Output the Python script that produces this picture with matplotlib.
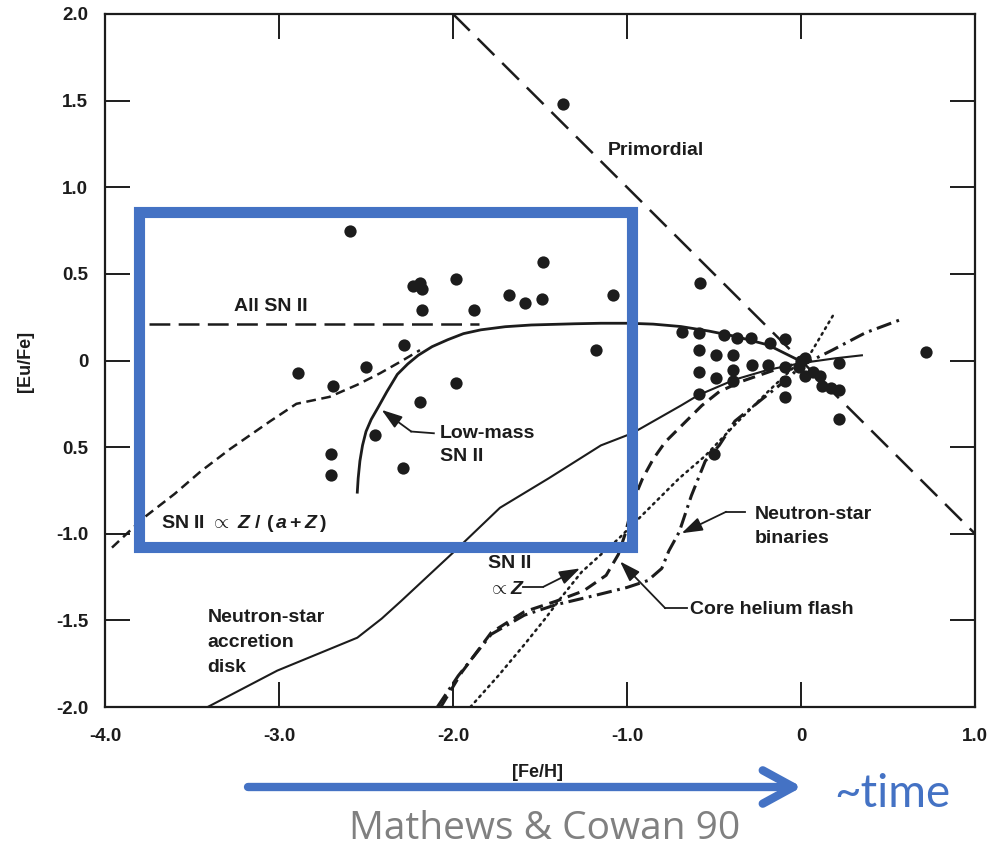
import matplotlib
matplotlib.use('Agg')
import matplotlib.pyplot as plt
from matplotlib.patches import Rectangle, FancyArrowPatch

# %% data read off the Mathews & Cowan (1990) [Eu/Fe] vs [Fe/H] figure
fe_h_stars = [-1.37, -2.59, -1.48, -1.98, -2.23, -2.19, -2.18, -1.68, -1.585, -1.49,
              -1.08, -2.18, -1.88, -2.28, -1.18, -2.89, -2.50, -2.69, -1.98, -2.19,
              -2.45, -2.70, -2.70, -2.29,
              -0.58, -0.686, -0.586, -0.44, -0.37, -0.29, -0.18, -0.09, -0.586, -0.49,
              -0.39, -0.28, -0.19, -0.09, -0.586, -0.49, -0.39, -0.39, -0.586, -0.09,
              -0.09, 0.0, 0.025, -0.013, 0.025, 0.07, 0.11, 0.12, 0.17, 0.22,
              0.22, 0.22, 0.72, -0.50]
eu_fe_stars = [1.48, 0.745, 0.57, 0.47, 0.43, 0.45, 0.41, 0.38, 0.33, 0.355,
               0.38, 0.29, 0.29, 0.09, 0.06, -0.07, -0.035, -0.15, -0.13, -0.24,
               -0.43, -0.54, -0.66, -0.62,
               0.45, 0.167, 0.158, 0.148, 0.13, 0.13, 0.10, 0.125, 0.06, 0.03,
               0.03, -0.025, -0.025, -0.035, -0.064, -0.10, -0.054, -0.12, -0.195, -0.21,
               -0.12, 0.0, 0.013, -0.035, -0.09, -0.064, -0.09, -0.15, -0.16, -0.17,
               -0.015, -0.34, 0.05, -0.54]

primordial_x = [-2.0, 1.0]
primordial_y = [2.0, -1.0]

all_sn2_x = [-3.75, -1.85]
all_sn2_y = [0.21, 0.21]

low_mass_x = [-2.55, -2.545, -2.535, -2.52, -2.50, -2.47, -2.43, -2.38, -2.32, -2.26,
              -2.20, -2.12, -2.03, -1.94, -1.84, -1.70, -1.55, -1.30, -1.15, -0.99,
              -0.85, -0.69, -0.53, -0.38, -0.19, -0.03, 0.0]
low_mass_y = [-0.76, -0.68, -0.58, -0.49, -0.41, -0.34, -0.27, -0.18, -0.08, -0.02,
              0.03, 0.08, 0.12, 0.155, 0.177, 0.195, 0.205, 0.212, 0.215, 0.215,
              0.21, 0.196, 0.17, 0.14, 0.09, 0.01, 0.0]

z_az_x = [-3.96, -3.78, -3.60, -3.45, -3.28, -3.05, -2.90, -2.71, -2.55, -2.42, -2.29, -2.19]
z_az_y = [-1.08, -0.91, -0.77, -0.64, -0.51, -0.35, -0.25, -0.21, -0.14, -0.074, 0.0, 0.06]

ns_disk_x = [-3.41, -3.01, -2.55, -2.41, -2.30, -1.99, -1.73, -1.45, -1.15, -0.97,
             -0.69, -0.59, -0.38, -0.19, 0.0, 0.20, 0.35]
ns_disk_y = [-2.0, -1.79, -1.60, -1.49, -1.39, -1.10, -0.85, -0.68, -0.49, -0.42,
             -0.26, -0.20, -0.11, -0.054, -0.015, 0.013, 0.03]

ns_bin_x = [-2.09, -1.97, -1.78, -1.59, -1.41, -1.20, -1.00, -0.88, -0.80, -0.76,
            -0.70, -0.63, -0.55, -0.47, -0.38, -0.22, -0.07, 0.0, 0.18, 0.37, 0.57]
ns_bin_y = [-2.0, -1.82, -1.58, -1.47, -1.41, -1.36, -1.31, -1.27, -1.20, -1.10,
            -0.99, -0.78, -0.58, -0.49, -0.35, -0.22, -0.10, -0.03, 0.06, 0.16, 0.235]

he_flash_x = [-2.07, -1.95, -1.78, -1.59, -1.41, -1.25, -1.12, -1.05, -1.01, -0.96,
              -0.91, -0.85, -0.78, -0.69, -0.57, -0.47, -0.34, -0.15, 0.0]
he_flash_y = [-2.0, -1.80, -1.57, -1.45, -1.39, -1.33, -1.24, -1.12, -1.0, -0.80,
              -0.68, -0.57, -0.47, -0.38, -0.26, -0.18, -0.12, -0.054, -0.01]

sn2_z_x = [-1.90, -1.74, -1.59, -1.47, -1.38, -1.26, -1.15, -1.05, -0.88, -0.70,
           -0.55, -0.36, -0.18, 0.0, 0.06, 0.19]
sn2_z_y = [-2.0, -1.82, -1.64, -1.49, -1.37, -1.22, -1.12, -1.03, -0.86, -0.68,
           -0.55, -0.35, -0.17, 0.0, 0.05, 0.27]

xticks = [-4.0, -3.0, -2.0, -1.0, 0.0, 1.0]
xtick_labels = ['-4.0', '-3.0', '-2.0', '-1.0', '0', '1.0']
yticks = [2.0, 1.5, 1.0, 0.5, 0.0, -0.5, -1.0, -1.5, -2.0]
ytick_labels = ['2.0', '1.5', '1.0', '0.5', '0', '0.5', '-1.0', '-1.5', '-2.0']

# %%
ink = '#1c1c1c'
blue = '#4472C4'

plt.rcParams['font.family'] = ['Liberation Sans', 'DejaVu Sans']
plt.rcParams['font.weight'] = 'bold'
plt.rcParams['axes.labelweight'] = 'bold'
plt.rcParams['lines.scale_dashes'] = False
plt.rcParams['mathtext.fontset'] = 'custom'
plt.rcParams['mathtext.rm'] = 'Liberation Sans:bold'
plt.rcParams['mathtext.it'] = 'Liberation Sans:italic:bold'
plt.rcParams['mathtext.bf'] = 'Liberation Sans:bold'

fig = plt.figure(figsize=(9.89, 8.49), dpi=100)
ax = fig.add_axes([105/989, 1 - 707/849, 870/989, 693/849])
ax.set_xlim(-4.0, 1.0)
ax.set_ylim(-2.0, 2.0)

for s in ax.spines.values():
    s.set_linewidth(1.6)
    s.set_color(ink)

ax.set_xticks(xticks)
ax.set_xticklabels(xtick_labels)
ax.set_yticks(yticks)
ax.set_yticklabels(ytick_labels)
ax.tick_params(direction='in', length=18, width=1.4, color=ink, labelcolor=ink,
               labelsize=13.5, top=True, right=True)
ax.tick_params(axis='x', pad=15)
ax.tick_params(axis='y', pad=12)

ax.set_xlabel('[Fe/H]', fontsize=13, color=ink, fontweight='bold')
ax.xaxis.set_label_coords(0.4966, -0.082)
ax.set_ylabel('[Eu/Fe]', fontsize=13, color=ink, fontweight='bold')
ax.yaxis.set_label_coords(-0.082, 0.498)

# model curves
ax.plot(primordial_x, primordial_y, color=ink, lw=1.8, dashes=(17, 8))
ax.plot(all_sn2_x, all_sn2_y, color=ink, lw=1.8, dashes=(15, 6))
ax.plot(low_mass_x, low_mass_y, color=ink, lw=2.0)
ax.plot(z_az_x, z_az_y, color=ink, lw=1.8, dashes=(7, 4))
ax.plot(ns_disk_x, ns_disk_y, color=ink, lw=1.5)
ax.plot(ns_bin_x, ns_bin_y, color=ink, lw=2.2, dashes=(11, 4, 2, 4))
ax.plot(he_flash_x, he_flash_y, color=ink, lw=2.2, dashes=(9, 5))
ax.plot(sn2_z_x, sn2_z_y, color=ink, lw=1.8, dashes=(1.4, 3.4), dash_capstyle='round')

ax.scatter(fe_h_stars, eu_fe_stars, s=78, color=ink, linewidths=0, zorder=4)

# labels + pointers
ax.text(-1.11, 1.21, 'Primordial', fontsize=14, color=ink, va='center')
ax.text(-3.26, 0.31, 'All SN II', fontsize=14, color=ink, va='center')
ax.text(-2.075, -0.42, 'Low-mass', fontsize=14, color=ink, va='center')
ax.text(-2.075, -0.555, 'SN II', fontsize=14, color=ink, va='center')
ax.text(-3.68, -0.94, r'SN II $\propto$ $Z\ /\ (\,a + Z\,)$', fontsize=14, color=ink, va='center')
ax.text(-3.41, -1.483, 'Neutron-star', fontsize=14, color=ink, va='center')
ax.text(-3.41, -1.625, 'accretion', fontsize=14, color=ink, va='center')
ax.text(-3.41, -1.77, 'disk', fontsize=14, color=ink, va='center')
ax.text(-1.80, -1.17, 'SN II', fontsize=14, color=ink, va='center')
ax.text(-1.80, -1.32, r'$\propto Z$', fontsize=14, color=ink, va='center')
ax.text(-0.64, -1.44, 'Core helium flash', fontsize=14, color=ink, va='center')
ax.text(-0.265, -0.89, 'Neutron-star', fontsize=14, color=ink, va='center')
ax.text(-0.265, -1.025, 'binaries', fontsize=14, color=ink, va='center')

pointers = [
    ([-2.11, -2.24], [-0.42, -0.41], (-2.41, -0.285)),
    ([-1.596, -1.48], [-1.306, -1.306], (-1.27, -1.20)),
    ([-0.657, -0.78], [-1.43, -1.43], (-1.04, -1.16)),
    ([-0.32, -0.43], [-0.873, -0.873], (-0.686, -0.997)),
]
for px, py, head in pointers:
    ax.plot(px, py, color=ink, lw=1.3)
    ax.annotate('', xy=head, xytext=(px[-1], py[-1]),
                arrowprops=dict(arrowstyle='-|>,head_length=0.9,head_width=0.3',
                                lw=1.3, color=ink, shrinkA=0, shrinkB=0,
                                mutation_scale=14))

# blue highlight box
ax.add_patch(Rectangle((-3.805, -1.074), 2.831, 1.934, fill=False,
                       edgecolor=blue, lw=8, zorder=6, clip_on=False,
                       joinstyle='miter'))

# time arrow + credits
arr = FancyArrowPatch((248, 849 - 787), (802, 849 - 787), transform=None,
                      arrowstyle='->,head_length=0.55,head_width=0.3',
                      mutation_scale=40, lw=6, color=blue,
                      capstyle='round', joinstyle='round',
                      shrinkA=0, shrinkB=0)
fig.add_artist(arr)
fig.text(834/989, (849 - 807)/849, '~time', color=blue, family='Lato',
         fontweight='normal', fontsize=33, ha='left', va='baseline')
fig.text(545/989, 1/849, 'Mathews & Cowan 90', color='#808080',
         family='Open Sans', fontweight='normal', fontsize=28, ha='center', va='bottom')

fig.savefig('out.png', dpi=100)
